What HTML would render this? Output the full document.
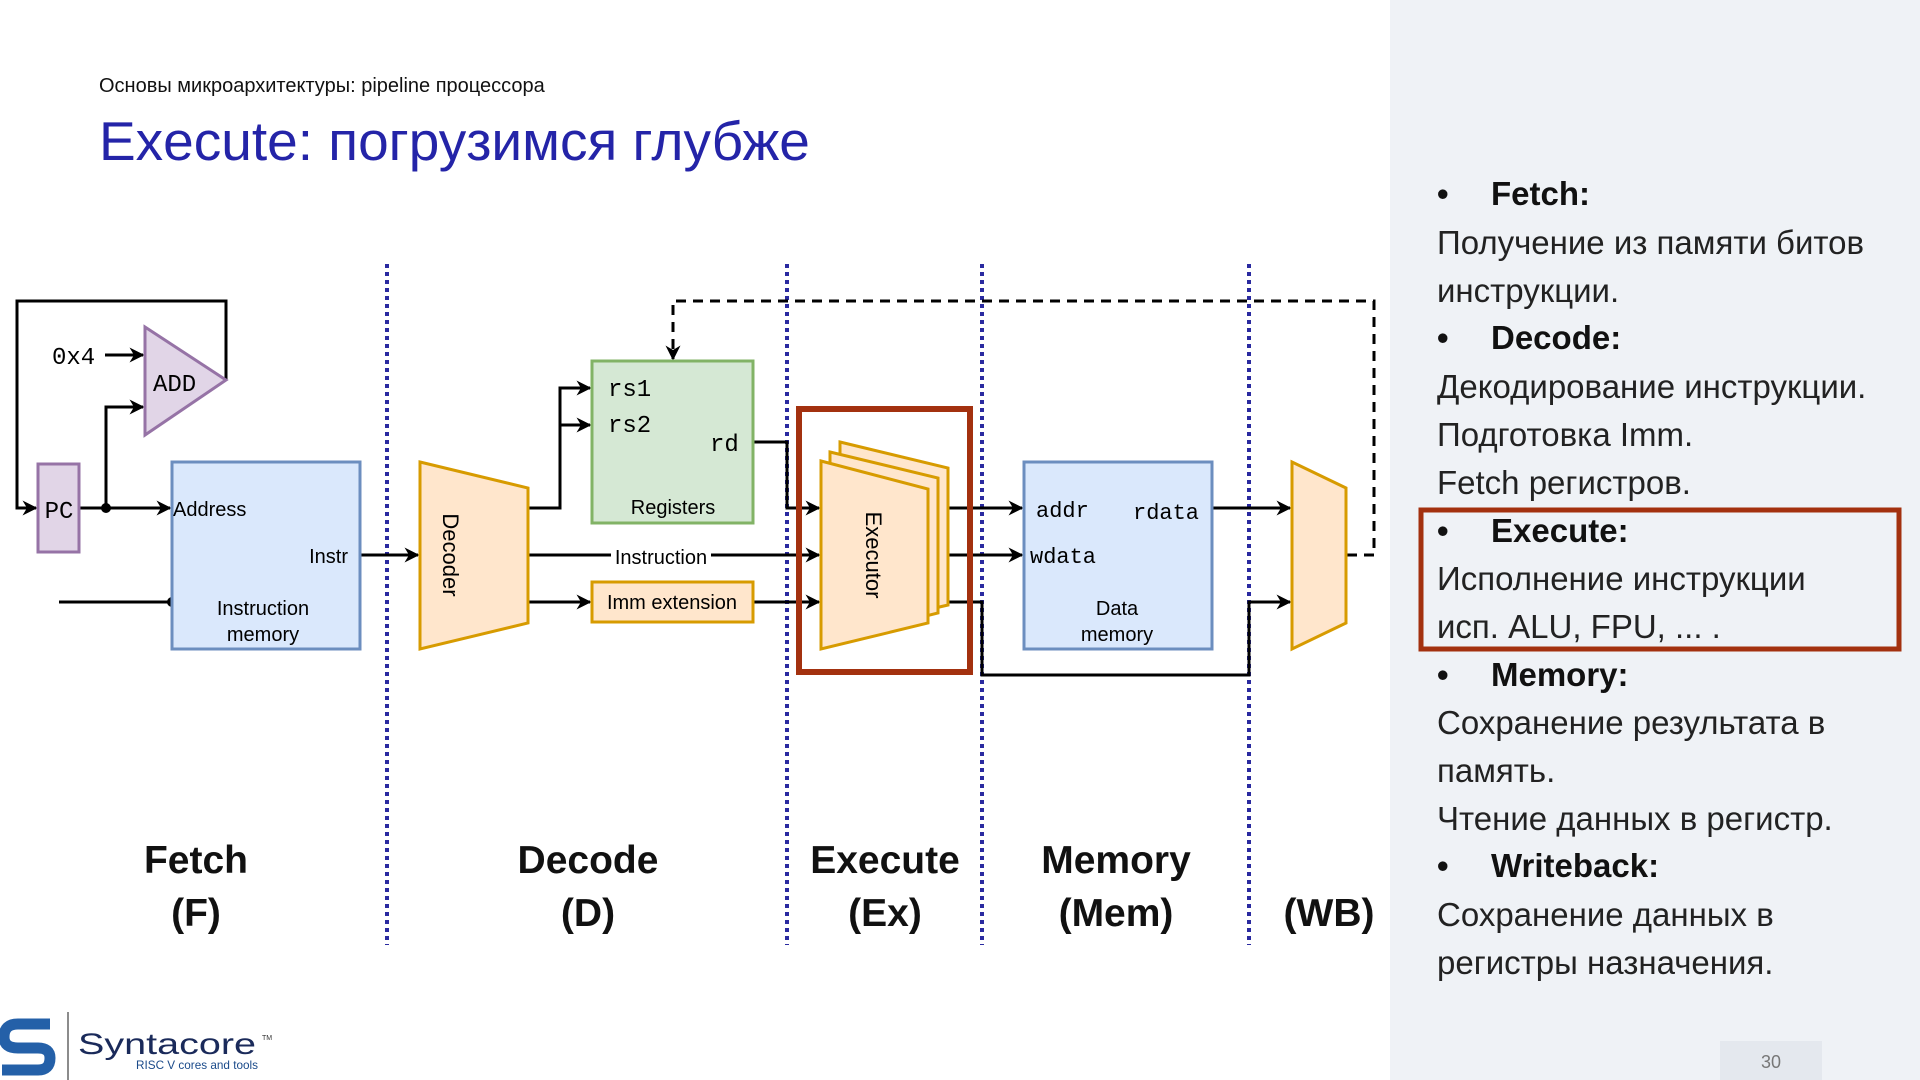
<!DOCTYPE html>
<html><head><meta charset="utf-8"><style>
html,body{margin:0;padding:0;width:1920px;height:1080px;overflow:hidden;background:#fff}
svg{display:block}
.m{font-family:"Liberation Mono",monospace}
.s{font-family:"Liberation Sans","DejaVu Sans",sans-serif}
</style></head><body>
<svg width="1920" height="1080" viewBox="0 0 1920 1080" xmlns="http://www.w3.org/2000/svg">
<defs>
<marker id="a" viewBox="0 0 10 10" refX="9" refY="5" markerWidth="5" markerHeight="5" orient="auto"><path d="M0,0 L10,5 L0,10 L3,5 z" fill="#000"/></marker>
</defs>
<rect x="1390" y="0" width="530" height="1080" fill="#eff2f6"/>
<rect x="1720" y="1041" width="102" height="39" fill="#e4e8ee"/>
<text x="1771" y="1068" class="s" font-size="18" fill="#777" text-anchor="middle">30</text>

<text x="99" y="92" class="s" font-size="20" fill="#111">Основы микроархитектуры: pipeline процессора</text>
<text x="99" y="160" class="s" font-size="55" fill="#2424a8">Execute: погрузимся глубже</text>

<g stroke="#2a2aa0" stroke-width="4" stroke-dasharray="4,4">
<line x1="387" y1="264" x2="387" y2="945"/>
<line x1="787" y1="264" x2="787" y2="945"/>
<line x1="982" y1="264" x2="982" y2="945"/>
<line x1="1249" y1="264" x2="1249" y2="945"/>
</g>

<g fill="none" stroke="#000" stroke-width="3">
<polyline points="226,380 226,301 17,301 17,508 36,508" marker-end="url(#a)"/>
<line x1="105" y1="355" x2="143" y2="355" marker-end="url(#a)"/>
<polyline points="106,508 106,407 143,407" marker-end="url(#a)"/>
<line x1="80" y1="508" x2="170" y2="508" marker-end="url(#a)"/>
<line x1="59" y1="602" x2="172" y2="602"/>
<line x1="360" y1="555" x2="418" y2="555" marker-end="url(#a)"/>
<polyline points="528,508 560,508 560,388 590,388" marker-end="url(#a)"/>
<polyline points="560,425 590,425" marker-end="url(#a)"/>
<line x1="528" y1="555" x2="819" y2="555" marker-end="url(#a)"/>
<line x1="528" y1="602" x2="590" y2="602" marker-end="url(#a)"/>
<line x1="753" y1="602" x2="819" y2="602" marker-end="url(#a)"/>
<polyline points="753,442 787,442 787,508 819,508" marker-end="url(#a)"/>
<line x1="928" y1="508" x2="1022" y2="508" marker-end="url(#a)"/>
<line x1="928" y1="555" x2="1022" y2="555" marker-end="url(#a)"/>
<polyline points="928,602 982,602 982,675 1249,675 1249,602 1290,602" marker-end="url(#a)"/>
<line x1="1212" y1="508" x2="1290" y2="508" marker-end="url(#a)"/>
</g>
<g fill="none" stroke="#000" stroke-width="3" stroke-dasharray="10,7">
<polyline points="1347,555 1374,555 1374,301 673,301 673,359" marker-end="url(#a)"/>
</g>
<circle cx="106" cy="508" r="5" fill="#000"/>
<circle cx="172" cy="602" r="5" fill="#000"/>

<polygon points="145,327 226,380 145,435" fill="#e1d5e7" stroke="#9673a6" stroke-width="3"/>
<text x="153" y="391" class="m" font-size="24" fill="#000">ADD</text>
<text x="52" y="364" class="m" font-size="24" fill="#000">0x4</text>
<rect x="38" y="464" width="41" height="88" fill="#e1d5e7" stroke="#9673a6" stroke-width="3"/>
<text x="59" y="518" class="m" font-size="24" fill="#000" text-anchor="middle">PC</text>
<rect x="172" y="462" width="188" height="187" fill="#dae8fc" stroke="#6c8ebf" stroke-width="3"/>
<text x="173" y="516" class="s" font-size="20" fill="#000">Address</text>
<text x="348" y="563" class="s" font-size="20" fill="#000" text-anchor="end">Instr</text>
<text x="263" y="615" class="s" font-size="20" fill="#000" text-anchor="middle">Instruction</text>
<text x="263" y="641" class="s" font-size="20" fill="#000" text-anchor="middle">memory</text>
<polygon points="420,462 528,488 528,623 420,649" fill="#ffe6cc" stroke="#d79b00" stroke-width="3"/>
<text transform="translate(443,555) rotate(90)" class="s" font-size="22" fill="#000" text-anchor="middle">Decoder</text>
<rect x="592" y="361" width="161" height="162" fill="#d5e8d4" stroke="#82b366" stroke-width="3"/>
<text x="608" y="396" class="m" font-size="24" fill="#000">rs1</text>
<text x="608" y="432" class="m" font-size="24" fill="#000">rs2</text>
<text x="710" y="451" class="m" font-size="24" fill="#000">rd</text>
<text x="673" y="514" class="s" font-size="20" fill="#000" text-anchor="middle">Registers</text>
<rect x="611" y="545" width="100" height="20" fill="#fff"/>
<text x="661" y="564" class="s" font-size="20" fill="#000" text-anchor="middle">Instruction</text>
<rect x="592" y="582" width="161" height="40" fill="#ffe6cc" stroke="#d79b00" stroke-width="3"/>
<text x="672" y="609" class="s" font-size="20" fill="#000" text-anchor="middle">Imm extension</text>
<polygon points="840,442 948,468 948,605 840,630" fill="#ffe6cc" stroke="#d79b00" stroke-width="3"/>
<polygon points="830,452 938,478 938,613 830,640" fill="#ffe6cc" stroke="#d79b00" stroke-width="3"/>
<polygon points="821,461 928,489 928,623 821,649" fill="#ffe6cc" stroke="#d79b00" stroke-width="3"/>
<text transform="translate(866,555) rotate(90)" class="s" font-size="22" fill="#000" text-anchor="middle">Executor</text>
<rect x="799" y="409" width="171" height="263" fill="none" stroke="#a3310f" stroke-width="6"/>
<rect x="1024" y="462" width="188" height="187" fill="#dae8fc" stroke="#6c8ebf" stroke-width="3"/>
<text x="1036" y="517" class="m" font-size="22" fill="#000">addr</text>
<text x="1133" y="519" class="m" font-size="22" fill="#000">rdata</text>
<text x="1030" y="563" class="m" font-size="22" fill="#000">wdata</text>
<text x="1117" y="615" class="s" font-size="20" fill="#000" text-anchor="middle">Data</text>
<text x="1117" y="641" class="s" font-size="20" fill="#000" text-anchor="middle">memory</text>
<polygon points="1292,462 1346,488 1346,623 1292,649" fill="#ffe6cc" stroke="#d79b00" stroke-width="3"/>

<g class="s" font-size="39" fill="#111" text-anchor="middle" font-weight="bold">
<text x="196" y="873">Fetch</text><text x="196" y="926">(F)</text>
<text x="588" y="873">Decode</text><text x="588" y="926">(D)</text>
<text x="885" y="873">Execute</text><text x="885" y="926">(Ex)</text>
<text x="1116" y="873">Memory</text><text x="1116" y="926">(Mem)</text>
<text x="1329" y="926">(WB)</text>
</g>

<g class="s" font-size="33" fill="#222">
<text x="1437" y="205" font-weight="bold" fill="#111">•</text><text x="1491" y="205" font-weight="bold" fill="#111">Fetch:</text>
<text x="1437" y="254">Получение из памяти битов</text>
<text x="1437" y="302">инструкции.</text>
<text x="1437" y="349" font-weight="bold" fill="#111">•</text><text x="1491" y="349" font-weight="bold" fill="#111">Decode:</text>
<text x="1437" y="398">Декодирование инструкции.</text>
<text x="1437" y="446">Подготовка Imm.</text>
<text x="1437" y="494">Fetch регистров.</text>
<text x="1437" y="542" font-weight="bold" fill="#111">•</text><text x="1491" y="542" font-weight="bold" fill="#111">Execute:</text>
<text x="1437" y="590">Исполнение инструкции</text>
<text x="1437" y="638">исп. ALU, FPU, ... .</text>
<text x="1437" y="686" font-weight="bold" fill="#111">•</text><text x="1491" y="686" font-weight="bold" fill="#111">Memory:</text>
<text x="1437" y="734">Сохранение результата в</text>
<text x="1437" y="782">память.</text>
<text x="1437" y="830">Чтение данных в регистр.</text>
<text x="1437" y="877" font-weight="bold" fill="#111">•</text><text x="1491" y="877" font-weight="bold" fill="#111">Writeback:</text>
<text x="1437" y="926">Сохранение данных в</text>
<text x="1437" y="974">регистры назначения.</text>
</g>
<rect x="1421" y="510" width="478" height="139" fill="none" stroke="#a3310f" stroke-width="5"/>

<path d="M50,1024 H18 Q4,1024 4,1037 Q4,1048 18,1048 H38 Q50,1048 50,1058 Q50,1070 38,1070 H2" fill="none" stroke="#2460a8" stroke-width="11"/>
<line x1="68" y1="1012" x2="68" y2="1080" stroke="#666" stroke-width="1.5"/>
<text x="78" y="1054" class="s" font-size="30" fill="#1a2a5a" textLength="178" lengthAdjust="spacingAndGlyphs">Syntacore</text>
<text x="262" y="1040" class="s" font-size="7" fill="#333">TM</text>
<text x="136" y="1069" class="s" font-size="12" fill="#1a4a8a" textLength="122" lengthAdjust="spacingAndGlyphs">RISC V cores and tools</text>
</svg>
</body></html>
